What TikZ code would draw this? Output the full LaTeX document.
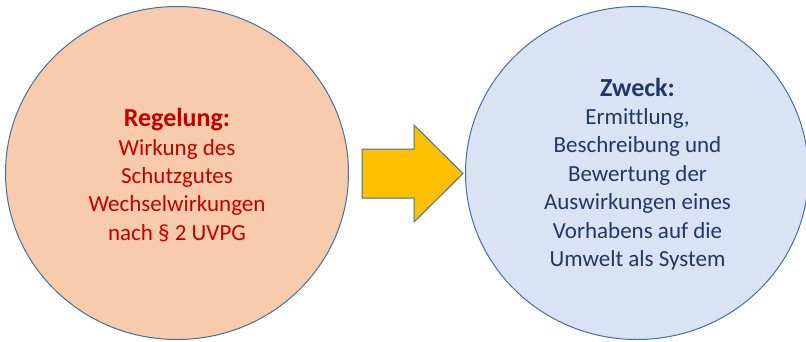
\documentclass[tikz,border=0pt]{standalone}
\usepackage{fontspec}
\setmainfont{Carlito}[Ligatures={NoCommon}]
\usetikzlibrary{shapes.geometric,positioning}
\definecolor{rimblue}{HTML}{41719C}
\definecolor{peach}{HTML}{F8CBAD}
\definecolor{paleblue}{HTML}{DAE3F3}
\definecolor{darkred}{HTML}{C00000}
\definecolor{navy}{HTML}{203864}
\definecolor{amber}{HTML}{FFC000}
\newcommand{\headline}[1]{{\fontsize{26}{28.4}\selectfont\bfseries #1}}
\tikzset{
  disc/.style={ellipse,draw=rimblue,line width=1pt,minimum width=343pt,minimum height=333pt,inner sep=0pt},
  txt/.style={align=center,font=\fontsize{23}{28.4}\selectfont},
  blockarrow/.style={draw=rimblue,fill=amber,line width=1pt,line join=miter},
}
\begin{document}
\begin{tikzpicture}[x=1pt,y=-1pt]
\useasboundingbox (0,0) rectangle (806,341);
\node[disc,fill=peach] (rule) at (177,173) {};
\node[disc,fill=paleblue] (goal) at (637,173) {};
\node[txt,text=darkred] (ruletext) at (177,175)
  {\headline{Regelung:}\\Wirkung des\\Schutzgutes\\Wechselwirkungen\\nach § 2 UVPG};
\node[txt,text=navy] (goaltext) at (637.5,174)
  {\headline{Zweck:}\\Ermittlung,\\Beschreibung und\\Bewertung der\\Auswirkungen eines\\Vorhabens auf die\\Umwelt als System};
% block arrow between the two discs
\draw[blockarrow] (362,149) -- (414,149) -- (414,125) -- (463,173.5)
  -- (414,222) -- (414,198) -- (362,198) -- cycle;
\end{tikzpicture}
\end{document}
